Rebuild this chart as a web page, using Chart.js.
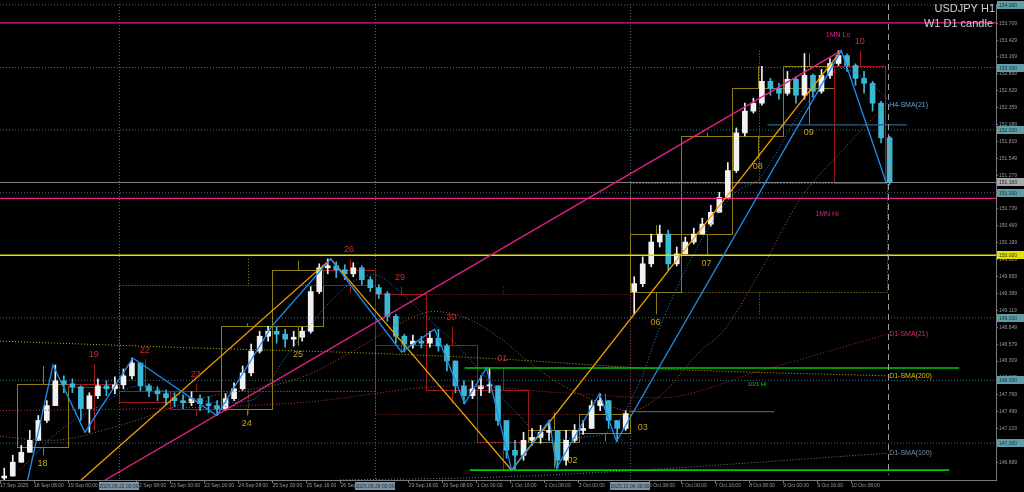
<!DOCTYPE html>
<html>
<head>
<meta charset="utf-8">
<script src="https://cdn.jsdelivr.net/npm/chart.js@4.4.1/dist/chart.umd.min.js"></script>
<style>
  html, body { margin: 0; padding: 0; background: #000; }
  #wrap { width: 1024px; height: 492px; position: relative; }
</style>
</head>
<body>
<div id="wrap"><canvas id="chart"></canvas></div>
<script>
const candleOpen = [146.440,146.471,146.692,146.851,147.042,147.359,147.597,147.993,147.945,147.898,
  147.549,147.755,147.913,147.866,147.929,148.072,148.278,147.913,147.834,147.787,
  147.723,147.676,147.644,147.708,147.628,147.597,147.549,147.708,147.866,148.120,
  148.468,148.706,148.785,148.738,148.658,148.690,148.785,149.419,149.799,149.831,
  149.768,149.704,149.799,149.609,149.482,149.387,149.023,148.706,148.579,148.627,
  148.595,148.674,148.548,148.310,147.913,147.755,147.866,147.913,147.913,147.359,
  146.883,146.804,147.042,147.089,147.169,147.200,146.724,147.042,147.200,147.232,
  147.597,147.676,147.359,147.232,149.419,149.546,149.863,150.211,150.338,149.863,
  150.021,150.211,150.338,150.497,150.687,150.925,151.353,151.955,152.303,152.430,
  152.779,152.668,152.589,152.811,152.557,152.874,152.620,152.874,153.064,153.191,
  153.032,152.826,152.747,152.430,151.876];
const candleHigh = [146.598,146.804,146.963,147.200,147.438,147.676,148.246,148.072,148.025,147.913,
  147.803,148.025,147.993,148.056,148.183,148.357,148.278,147.945,147.898,147.850,
  147.803,147.771,147.818,147.771,147.739,147.676,147.787,147.961,148.230,148.579,
  148.785,148.864,148.849,148.817,148.785,148.849,149.498,149.863,149.942,149.894,
  149.847,149.879,149.831,149.657,149.530,149.419,149.055,148.738,148.722,148.706,
  148.785,148.817,148.579,148.310,147.993,147.993,148.072,148.199,147.913,147.359,
  147.042,147.169,147.232,147.280,147.359,147.200,147.200,147.295,147.359,147.676,
  147.787,147.676,147.359,147.517,149.657,149.974,150.338,150.481,150.402,150.132,
  150.291,150.433,150.592,150.798,151.004,151.479,152.034,152.430,152.509,153.017,
  152.826,152.747,152.937,152.850,153.223,152.900,152.969,153.143,153.270,153.220,
  153.060,152.937,152.780,152.460,151.900];
const candleLow = [146.408,146.471,146.692,146.851,147.042,147.327,147.597,147.803,147.803,147.359,
  147.169,147.708,147.755,147.787,147.866,148.025,147.834,147.739,147.676,147.612,
  147.581,147.549,147.597,147.517,147.486,147.438,147.517,147.676,147.834,148.072,
  148.436,148.627,148.595,148.532,148.548,148.627,148.753,149.387,149.704,149.641,
  149.609,149.657,149.530,149.419,149.308,148.944,148.595,148.452,148.516,148.516,
  148.532,148.468,148.151,147.803,147.628,147.708,147.755,147.803,147.280,146.756,
  146.566,146.724,146.963,146.994,147.042,146.598,146.645,147.010,147.137,147.232,
  147.517,147.232,147.026,147.200,149.055,149.498,149.815,150.132,149.768,149.830,
  150.021,150.180,150.338,150.465,150.687,150.909,151.321,151.907,152.272,152.399,
  152.557,152.494,152.557,152.430,152.494,152.525,152.589,152.826,153.032,152.937,
  152.715,152.589,152.303,151.796,151.131];
const candleClose = [146.471,146.692,146.851,147.042,147.359,147.597,147.993,147.945,147.898,147.549,
  147.755,147.913,147.866,147.929,148.072,148.278,147.913,147.834,147.787,147.723,
  147.676,147.644,147.708,147.628,147.597,147.549,147.708,147.866,148.120,148.468,
  148.706,148.785,148.738,148.658,148.690,148.785,149.419,149.799,149.831,149.768,
  149.704,149.799,149.609,149.482,149.387,149.023,148.706,148.579,148.627,148.595,
  148.674,148.548,148.310,147.913,147.755,147.866,147.913,147.913,147.359,146.883,
  146.804,147.042,147.089,147.169,147.200,146.724,147.042,147.200,147.232,147.597,
  147.676,147.359,147.232,147.470,149.546,149.863,150.211,150.338,149.863,150.021,
  150.211,150.338,150.497,150.687,150.925,151.353,151.955,152.303,152.430,152.779,
  152.668,152.589,152.811,152.557,152.874,152.620,152.874,153.064,153.191,153.032,
  152.826,152.747,152.430,151.876,151.162];
const candleBar = candleClose.map((_, i) => 4 * i + 2);

// D1 candles drawn as boxes
const dayStart = [8,32,56,80,104,128,152,176,200,224,248,272,296,320,344,368,392];
const dayName  = ['18','19','22','23','24','25','26','29','30','01','02','03','06','07','08','09','10'];
const dayOpen  = [146.931,147.945,147.834,147.834,147.549,148.864,149.768,149.387,148.563,147.850,147.010,147.153,149.419,150.338,151.907,152.668,153.017];
const dayHigh  = [148.230,148.262,148.341,147.945,148.912,149.911,149.942,149.498,148.864,148.199,147.486,147.787,150.481,151.955,153.017,153.223,153.270];
const dayLow   = [146.804,147.200,147.628,147.438,147.438,148.548,149.387,148.452,147.628,146.566,146.598,147.026,149.055,149.990,151.543,152.082,151.162];
const dayClose = [147.945,147.898,147.660,147.549,148.864,149.768,149.530,148.563,147.850,147.010,147.200,147.470,150.338,151.907,152.668,153.017,151.162];

// W1 candles (dotted boxes)
const weekStart = [56,176,296];
const weekEnd   = [176,296,417];
const weekOpen  = [147.834,149.387,149.419];
const weekHigh  = [149.942,149.498,153.270];
const weekLow   = [147.438,146.566,149.055];
const weekClose = [149.530,147.470,151.162];

// indicators
const h4Sma21Bar   = [9.4,28.2,47.0,65.8,84.6,103.4,117.5,136.3,156.5,165.9,175.3,188.0,200.7,212.9,225.6,243.0,258.5,272.6,286.7,300.8,310.2,329.0,344.5,357.1,375.9,396.1,408.8,416.8];
const h4Sma21Price = [146.566,147.200,147.597,147.913,147.755,147.644,147.676,148.468,149.308,149.578,149.688,149.419,148.991,148.627,148.151,147.470,147.042,147.089,147.200,147.993,148.864,150.211,150.972,151.242,152.272,152.985,152.747,152.509];
const h4Sma100Bar   = [0,23.5,56.4,94.0,141.0,165.9,188.0,203.5,219.5,235.0,249.1,263.2,282.0,296.1,310.2,329.0,339.8,357.1,375.9,394.7,416.8];
const h4Sma100Price = [147.105,147.042,147.280,147.708,148.040,148.468,148.912,149.102,148.991,148.674,148.278,147.945,147.644,147.517,147.755,148.468,148.785,149.736,150.893,151.638,152.430];
const d1Sma21Bar   = [0,70.5,141.0,216.2,263.2,310.2,357.1,416.8];
const d1Sma21Price = [147.517,147.549,147.644,147.913,147.803,147.723,148.151,148.738];
const d1Sma200Bar   = [0,94.0,172.5,235.0,310.2,416.8];
const d1Sma200Price = [148.627,148.516,148.436,148.341,148.183,148.072];
const d1Sma100Bar   = [159.8,235.0,300.8,357.1,416.8];
const d1Sma100Price = [146.408,146.456,146.566,146.693,146.836];

// zigzag and drawn lines
const zigzagBar   = [12,24.9,39.9,62.4,101.9,127.7,155.4,188.7,204.2,218.3,228.6,240.4,258.2,261.5,281.7,289.7,395.3,416.4];
const zigzagPrice = [146.25,148.246,147.169,148.357,147.438,148.864,149.942,148.452,148.817,147.628,148.199,146.566,147.359,146.598,147.787,147.026,153.270,151.162];
const orangeBar   = [32.9,155.4,240.4,395.3];
const orangePrice = [146.25,149.942,146.566,153.270];
const pinkTrendBar   = [41.5,395.3];
const pinkTrendPrice = [146.25,153.270];

const wholeLevels = [154,153,152,151,149,148,147];
const monthLevels = [153.714,150.909];
const yellowLevel = 150.000;
const lastPrice = 151.163;
const greenLevels = [148.199,146.566];
const greenFrom = [218.3,220.7];
const greenTo = [450.7,446.0];
const blueLevels = [152.082,147.501];
const blueFrom = [360.6,295.8];
const blueTo = [426.3,363.8];
const sepBars = [56,176,296];
const sepText = ['2025.09.22 00:00','2025.09.29 00:00','2025.10.06 00:00'];

// axes
const xTickBars = [0,16,32,64,80,96,112,128,144,160,192,208,224,240,256,272,305,320,336,352,368,384,400];
const xTickText = ['17 Sep 2025','18 Sep 08:00','19 Sep 00:00','22 Sep 08:00','23 Sep 00:00','23 Sep 16:00','24 Sep 08:00','25 Sep 00:00','25 Sep 16:00','26 Sep 08:00','29 Sep 16:00','30 Sep 08:00','1 Oct 00:00','1 Oct 16:00','2 Oct 08:00','3 Oct 00:00','6 Oct 08:00','7 Oct 00:00','7 Oct 16:00','8 Oct 08:00','9 Oct 00:00','9 Oct 16:00','10 Oct 08:00'];
const yTickVals = [146.689,146.959,147.229,147.499,147.769,148.039,148.309,148.579,148.849,149.119,149.389,149.659,149.929,150.199,150.469,150.739,151.009,151.279,151.549,151.819,152.089,152.359,152.629,152.899,153.169,153.429,153.709];
const axisBoxes = [[154,'#5f9ea8'],[153,'#5f9ea8'],[152,'#5f9ea8'],[151,'#5f9ea8'],[151.163,'#a8a8a8'],[150,'#e2e200'],[149,'#5f9ea8'],[148,'#5f9ea8'],[147,'#5f9ea8']];

const BULL = '#f2f2f2', BEAR = '#3db7d6';
const candleColor = candleClose.map((c, i) => c >= candleOpen[i] ? BULL : BEAR);
const dotted = [1, 2];
const FONT = '"Liberation Sans", Arial, sans-serif';

function lineSet(xs, ys, color, width, dash, order, smooth) {
  return {
    type: 'line',
    data: xs.map((b, i) => ({ x: b, y: ys[i] })),
    borderColor: color, borderWidth: width, borderDash: dash || [],
    pointRadius: 0, fill: false, order: order,
    tension: smooth ? 0.4 : 0, cubicInterpolationMode: smooth ? 'monotone' : 'default'
  };
}
function levelSet(price, from, to, color, width, dash, order) {
  return lineSet([from, to], [price, price], color, width, dash, order, false);
}

function seg(ctx, x0, y0, x1, y1) {
  ctx.beginPath(); ctx.moveTo(x0, y0); ctx.lineTo(x1, y1); ctx.stroke();
}

function candleBox(ctx, x, y, s, e, o, h, l, c, dash, bull, bear) {
  const x0 = Math.round(x.getPixelForValue(s)) + 0.5;
  const x1 = Math.round(x.getPixelForValue(e)) + 0.5;
  const yo = Math.round(y.getPixelForValue(o)) + 0.5;
  const yc = Math.round(y.getPixelForValue(c)) + 0.5;
  const top = Math.min(yo, yc), bot = Math.max(yo, yc);
  const xm = Math.round((x0 + x1) / 2) + 0.5;
  ctx.strokeStyle = c >= o ? bull : bear;
  ctx.setLineDash(dash);
  ctx.strokeRect(x0, top, x1 - x0, Math.max(bot - top, 1));
  seg(ctx, xm, y.getPixelForValue(h), xm, top);
  seg(ctx, xm, bot, xm, y.getPixelForValue(l));
}

const overlay = {
  id: 'overlay',
  beforeDatasetsDraw(chart) {
    const { ctx, chartArea: a, scales: { x, y } } = chart;
    ctx.save();
    ctx.beginPath(); ctx.rect(a.left, a.top, a.width, a.height); ctx.clip();
    ctx.lineWidth = 1;
    ctx.strokeStyle = '#4d6f7c'; ctx.setLineDash(dotted);
    sepBars.forEach(b => { const xp = Math.round(x.getPixelForValue(b)) + 0.5; seg(ctx, xp, a.top, xp, a.bottom); });
    weekStart.forEach((s, i) => candleBox(ctx, x, y, s, weekEnd[i], weekOpen[i], weekHigh[i], weekLow[i], weekClose[i], dotted, '#9a8616', '#9a1c1c'));
    dayStart.forEach((s, i) => {
      const e = i < dayStart.length - 1 ? dayStart[i + 1] : s + 24;
      candleBox(ctx, x, y, s, e, dayOpen[i], dayHigh[i], dayLow[i], dayClose[i], [], '#8f7c12', '#a01818');
    });
    ctx.restore();
  },
  afterDraw(chart) {
    const { ctx, chartArea: a, scales: { x, y } } = chart;
    ctx.save();
    // chart shift line
    ctx.strokeStyle = '#a0a0a0'; ctx.lineWidth = 1; ctx.setLineDash([6, 4]);
    const xs = Math.round(x.getPixelForValue(417.3)) + 0.5;
    seg(ctx, xs, a.top, xs, a.bottom - 5);
    ctx.setLineDash([]);

    // D1 day numbers
    ctx.font = '9px ' + FONT; ctx.textAlign = 'center'; ctx.textBaseline = 'middle';
    const moved = { '02': [269, 146.725], '03': [302, 147.248] };
    dayName.forEach((n, i) => {
      const bull = dayClose[i] >= dayOpen[i];
      const e = i < dayStart.length - 1 ? dayStart[i + 1] : dayStart[i] + 24;
      let px = x.getPixelForValue((dayStart[i] + e) / 2);
      let py = bull ? y.getPixelForValue(dayLow[i]) + 8 : y.getPixelForValue(dayHigh[i]) - 9;
      if (moved[n]) { px = x.getPixelForValue(moved[n][0]); py = y.getPixelForValue(moved[n][1]); }
      ctx.fillStyle = bull ? '#c9a21e' : '#d42a2a';
      ctx.fillText(n, px, py);
    });

    // indicator names
    ctx.font = '7px ' + FONT; ctx.textAlign = 'left';
    [['H4-SMA(21)', 152.399, '#5fa6dc'], ['D1-SMA(21)', 148.738, '#d42a7c'],
     ['D1-SMA(200)', 148.072, '#d8c200'], ['D1-SMA(100)', 146.836, '#6f95a8']].forEach(t => {
      ctx.fillStyle = t[2]; ctx.fillText(t[0], x.getPixelForValue(417.8), y.getPixelForValue(t[1]));
    });
    ctx.textAlign = 'center';
    ctx.fillStyle = '#e0208a';
    ctx.fillText('1MN Lo', x.getPixelForValue(393.8), y.getPixelForValue(153.524));
    ctx.fillText('1MN Hi', x.getPixelForValue(388.6), y.getPixelForValue(150.655));
    ctx.font = '6px ' + FONT; ctx.fillStyle = '#00d000';
    ctx.fillText('10/1 Hi', x.getPixelForValue(355.7), y.getPixelForValue(147.929));

    // title
    ctx.font = '11px ' + FONT; ctx.textAlign = 'right'; ctx.textBaseline = 'alphabetic';
    ctx.fillStyle = '#cfcfcf';
    ctx.fillText('USDJPY H1', 995, 12);
    ctx.fillText('W1 D1 candle', 993, 27);

    // price boxes on the right scale
    ctx.font = '5px ' + FONT; ctx.textAlign = 'left'; ctx.textBaseline = 'middle';
    axisBoxes.forEach(([p, bg]) => {
      const py = Math.round(y.getPixelForValue(p));
      ctx.fillStyle = bg; ctx.fillRect(997, py - 4, 27, 8);
      ctx.fillStyle = '#1d2c30'; ctx.fillText(p.toFixed(3), 999, py + 0.5);
    });

    // separator time boxes on the time scale
    ctx.textAlign = 'center';
    sepBars.forEach((b, i) => {
      const px = Math.round(x.getPixelForValue(b));
      ctx.fillStyle = '#7d92a0'; ctx.fillRect(px - 20, a.bottom + 2, 40, 8);
      ctx.fillStyle = '#1c2630'; ctx.fillText(sepText[i], px, a.bottom + 6.5);
    });
    ctx.restore();
  }
};

const datasets = [
  // drawn lines on top
  lineSet(zigzagBar, zigzagPrice, '#1e8ff0', 1.3, [], 1),
  lineSet(orangeBar, orangePrice, '#f2a000', 1.3, [], 1),
  lineSet(pinkTrendBar, pinkTrendPrice, '#e8208a', 1.3, [], 1),
  ...monthLevels.map(p => levelSet(p, 0, 468, '#e8208a', 1.3, [], 2)),
  levelSet(yellowLevel, 0, 468, '#e2e200', 1.3, [], 2),
  ...greenLevels.map((p, i) => levelSet(p, greenFrom[i], greenTo[i], '#00c800', 1.6, [], 2)),
  ...blueLevels.map((p, i) => levelSet(p, blueFrom[i], blueTo[i], '#2c5f8f', 1.2, [], 3)),
  // moving averages
  lineSet(h4Sma21Bar, h4Sma21Price, '#2a86d8', 1, dotted, 6, true),
  lineSet(h4Sma100Bar, h4Sma100Price, '#a8641e', 1, dotted, 6, true),
  lineSet(d1Sma21Bar, d1Sma21Price, '#b02a6a', 1, dotted, 6, true),
  lineSet(d1Sma200Bar, d1Sma200Price, '#c8b000', 1, dotted, 6, true),
  lineSet(d1Sma100Bar, d1Sma100Price, '#5a8a9a', 1, dotted, 6, true),
  // candles
  {
    type: 'bar', order: 10, grouped: false, barThickness: 5, minBarLength: 1,
    data: candleBar.map((b, i) => ({ x: b, y: [candleOpen[i], candleClose[i]] })),
    backgroundColor: candleColor, borderWidth: 0
  },
  {
    type: 'bar', order: 11, grouped: false, barThickness: 1,
    data: candleBar.map((b, i) => ({ x: b, y: [candleLow[i], candleHigh[i]] })),
    backgroundColor: candleColor, borderWidth: 0
  },
  // background levels
  levelSet(lastPrice, 0, 468, '#808080', 1, [], 20),
  ...wholeLevels.map(p => levelSet(p, 0, 468, '#3a7582', 1, dotted, 20))
];

new Chart(document.getElementById('chart'), {
  type: 'bar',
  data: { datasets },
  plugins: [overlay],
  options: {
    responsive: true,
    maintainAspectRatio: false,
    animation: false,
    layout: { padding: 0 },
    plugins: { legend: { display: false }, tooltip: { enabled: false } },
    scales: {
      x: {
        type: 'linear', min: 0, max: 468, offset: false,
        grid: { offset: false, drawOnChartArea: false, color: '#7a7a7a', tickLength: 3 },
        border: { color: '#7a7a7a' },
        afterBuildTicks: s => { s.ticks = xTickBars.map(v => ({ value: v })); },
        afterFit: s => { s.height = 12; },
        ticks: {
          autoSkip: false, maxRotation: 0, align: 'start', padding: 0,
          color: '#9a9a9a', font: { family: FONT, size: 5 },
          callback: v => xTickText[xTickBars.indexOf(v)]
        }
      },
      y: {
        type: 'linear', position: 'right', min: 146.408, max: 154.015,
        grid: { drawOnChartArea: false, color: '#7a7a7a', tickLength: 2 },
        border: { color: '#7a7a7a' },
        afterBuildTicks: s => { s.ticks = yTickVals.map(v => ({ value: v })); },
        afterFit: s => { s.width = 28; },
        ticks: {
          padding: 1, color: '#9a9a9a', font: { family: FONT, size: 5 },
          callback: v => v.toFixed(3)
        }
      }
    }
  }
});
</script>
</body>
</html>
